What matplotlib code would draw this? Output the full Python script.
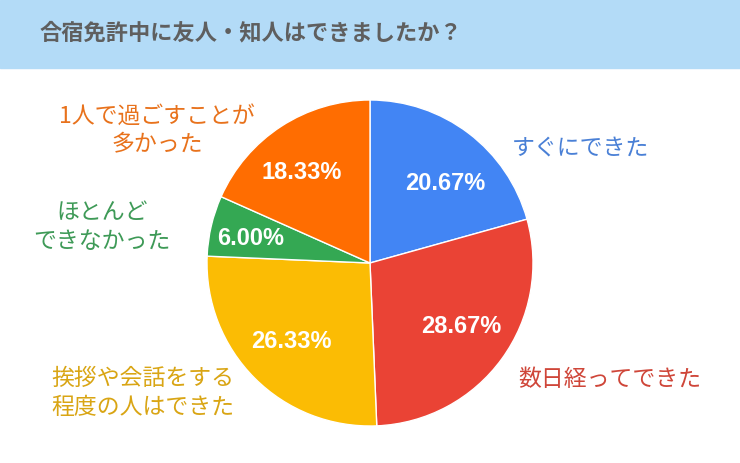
import numpy as np
import matplotlib
matplotlib.use("Agg")
from matplotlib import pyplot as plt
from matplotlib.patches import Rectangle

plt.rcParams["font.family"] = ["Noto Sans CJK JP", "DejaVu Sans"]

title = "合宿免許中に友人・知人はできましたか？"
labels = ["すぐにできた", "数日経ってできた", "挨拶や会話をする\n程度の人はできた",
          "ほとんど\nできなかった", "1人で過ごすことが\n多かった"]
values = [20.67, 28.67, 26.33, 6.00, 18.33]

colors = ["#4285f4", "#ea4335", "#fbbc04", "#34a853", "#ff6d01"]
text_colors = ["#4a80d6", "#cf4639", "#d9a514", "#3e9a57", "#e8721c"]
# outside label spots (pixels, from top-left)
label_pos = [(580, 148), (610, 380), (143, 393), (102, 227), (157, 130)]
# percent label placement: radius fraction and angle nudge (deg)
pct_r = [0.673, 0.68, 0.68, 0.745, 0.692]
pct_da = [-6, 1, 0, 1.8, 4]

W, H = 740, 463
fig = plt.figure(figsize=(7.4, 4.63), dpi=100)
ax = fig.add_axes([0, 0, 1, 1])

# header band
ax.add_patch(Rectangle((0, H - 68), W, 68, color="#b3dbf7", zorder=0))
ax.text(40, H - 33, title, fontsize=16, fontweight="bold", color="#5f5f5f",
        va="center", ha="left")

cx, cy, R = 370, H - 263, 163
wedges, _ = ax.pie(values, colors=colors, startangle=90, counterclock=False,
                   center=(cx, cy), radius=R, frame=True,
                   wedgeprops=dict(edgecolor="white", linewidth=1))
ax.set_xlim(0, W)
ax.set_ylim(0, H)
ax.set_aspect("equal")
ax.axis("off")

for w, v, r, da in zip(wedges, values, pct_r, pct_da):
    mid = np.deg2rad((w.theta1 + w.theta2) / 2 + da)
    x = cx + R * r * np.cos(mid)
    y = cy + R * r * np.sin(mid)
    ax.text(x, y, f"{v:.2f}%", color="white", fontsize=17, fontweight="bold",
            family=["Liberation Sans", "DejaVu Sans"], ha="center", va="center")

for lab, (px, py), c in zip(labels, label_pos, text_colors):
    ax.text(px, H - py, lab, color=c, fontsize=16.5, ha="center", va="center",
            linespacing=1.3)

plt.savefig("out.png", dpi=100)
